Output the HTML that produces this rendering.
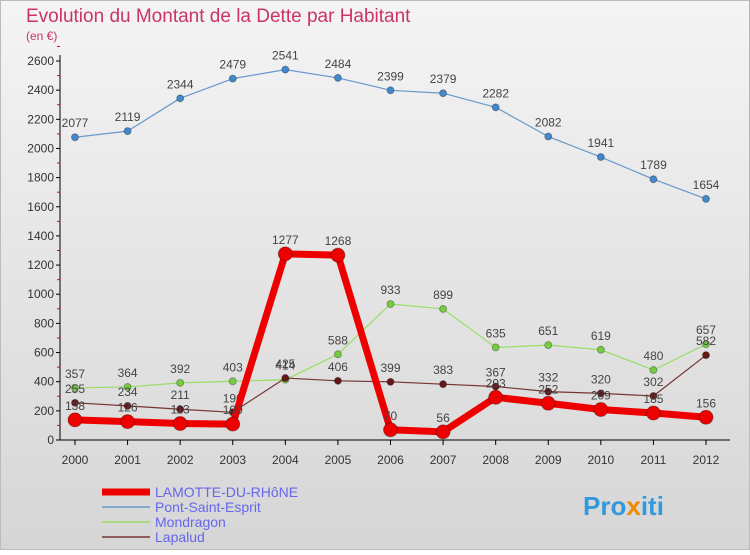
<!DOCTYPE html>
<html><head><meta charset="utf-8"><style>
body{margin:0;width:750px;height:550px;overflow:hidden;font-family:"Liberation Sans",sans-serif}
</style></head><body>
<svg width="750" height="550" xmlns="http://www.w3.org/2000/svg">
<defs><linearGradient id="bg" x1="0" y1="0" x2="0" y2="1"><stop offset="0" stop-color="#f4f4f4"/><stop offset="1" stop-color="#d6d6d6"/></linearGradient></defs>
<rect x="0.5" y="0.5" width="749" height="549" fill="url(#bg)" stroke="#bbb"/>
<text x="26" y="22" font-size="19" fill="#cc3366">Evolution du Montant de la Dette par Habitant</text>
<text x="26" y="40" font-size="12" fill="#cc3366">(en €)</text>
<g id="axes"></g><g id="series"></g>
<g>
<line x1="102" y1="492" x2="150" y2="492" stroke="#ee0000" stroke-width="7"/>
<text x="155" y="497" font-size="14" fill="#6666ee">LAMOTTE-DU-RHôNE</text>
<line x1="102" y1="507" x2="150" y2="507" stroke="#6699cc" stroke-width="1.5"/>
<text x="155" y="512" font-size="14" fill="#6666ee">Pont-Saint-Esprit</text>
<line x1="102" y1="522" x2="150" y2="522" stroke="#99dd66" stroke-width="1.5"/>
<text x="155" y="527" font-size="14" fill="#6666ee">Mondragon</text>
<line x1="102" y1="537" x2="150" y2="537" stroke="#773333" stroke-width="1.5"/>
<text x="155" y="542" font-size="14" fill="#6666ee">Lapalud</text>
</g>
<text x="583" y="515" font-size="26" font-weight="bold" fill="#3399dd">Pro<tspan fill="#ee8800">x</tspan>iti</text>
</svg>
<script>
const years=[2000,2001,2002,2003,2004,2005,2006,2007,2008,2009,2010,2011,2012];
const yTicks=[0,200,400,600,800,1000,1200,1400,1600,1800,2000,2200,2400,2600];
const lamotte=[138,126,113,109,1277,1268,70,56,293,252,209,185,156];
const pont=[2077,2119,2344,2479,2541,2484,2399,2379,2282,2082,1941,1789,1654];
const mondragon=[357,364,392,403,414,588,933,899,635,651,619,480,657];
const lapalud=[255,234,211,190,425,406,399,383,367,332,320,302,582];
const NS="http://www.w3.org/2000/svg";
const x=i=>75+i*(706-75)/12;
const y=v=>440-v*379/2600;
function mk(p,t,a){const e=document.createElementNS(NS,t);for(const k in a)e.setAttribute(k,a[k]);p.appendChild(e);return e;}
const ax=document.getElementById('axes');
const yl=mk(ax,'line',{x1:60,y1:55,x2:60,y2:440,stroke:'#000'});


const xl=mk(ax,'line',{x1:60,y1:440,x2:730,y2:440,stroke:'#000'});


yTicks.forEach(v=>{
 mk(ax,'line',{x1:56,y1:y(v),x2:60,y2:y(v),stroke:'#000'});
 mk(ax,'line',{x1:57,y1:y(v+100),x2:60,y2:y(v+100),stroke:'#e00'});
 const t=mk(ax,'text',{x:54,y:y(v)+4,'font-size':12,'text-anchor':'end',fill:'#333'});
 t.textContent=v;
 
 
});
years.forEach((yr,i)=>{
 mk(ax,'line',{x1:x(i),y1:440,x2:x(i),y2:445,stroke:'#000'});
 const t=mk(ax,'text',{x:x(i),y:464,'font-size':12,'text-anchor':'middle',fill:'#333'});
 t.textContent=yr;
 
 
});
const sg=document.getElementById('series');
function draw(name,data,color,w,r,dot){
 const g=mk(sg,'g',{});
 
 
 mk(g,'polyline',{points:data.map((v,i)=>x(i)+','+y(v)).join(' '),fill:'none',stroke:color,'stroke-width':w,'stroke-linejoin':'round'});
 data.forEach((v,i)=>{
  const c=mk(g,'circle',{cx:x(i),cy:y(v),r:r,fill:dot,stroke:'rgba(0,0,0,0.3)'});
  
  
  const t=mk(g,'text',{x:x(i),y:y(v)-10,'font-size':12,'text-anchor':'middle',fill:'#444'});
  t.textContent=v;
  
  
 });
}
draw('pont',pont,'#6699cc',1.2,3.5,'#4488cc');
draw('mondragon',mondragon,'#99dd66',1.2,3.5,'#77cc44');
draw('lapalud',lapalud,'#773333',1.2,3.5,'#661818');
draw('lamotte',lamotte,'#ee0000',7,7,'#ee0000');
</script>
</body></html>
